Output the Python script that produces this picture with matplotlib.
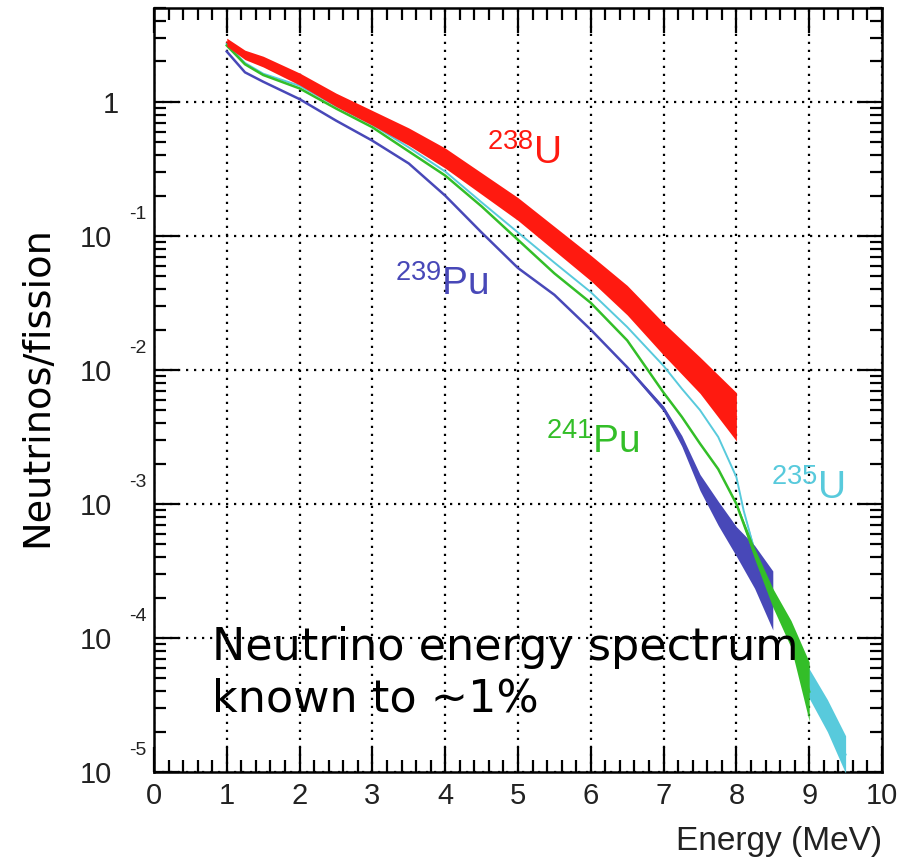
import numpy as np
import matplotlib
matplotlib.use("Agg")
import matplotlib.pyplot as plt
from matplotlib.ticker import LogLocator, MultipleLocator, NullFormatter, FixedLocator, FixedFormatter
from matplotlib.transforms import blended_transform_factory, ScaledTranslation

plt.rcParams['font.family'] = ['Liberation Sans', 'DejaVu Sans']
plt.rcParams['mathtext.fontset'] = 'custom'
plt.rcParams['mathtext.rm'] = 'Liberation Sans'
plt.rcParams['mathtext.it'] = 'Liberation Sans:italic'
plt.rcParams['mathtext.bf'] = 'Liberation Sans:bold'

# ---- data (log10 of neutrinos/fission) ----
x_u238 = [1, 1.25, 1.5, 2, 2.5, 3, 3.5, 4, 4.5, 5, 5.5, 6, 6.5, 7, 7.5, 8]
log_u238 = [0.445, 0.35, 0.30, 0.17, 0.015, -0.12, -0.26, -0.42, -0.61, -0.80,
            -1.02, -1.24, -1.48, -1.77, -2.04, -2.35]
err_u238 = [0.03, 0.035, 0.04, 0.045, 0.05, 0.055, 0.065, 0.075, 0.08, 0.085,
            0.09, 0.095, 0.11, 0.12, 0.135, 0.18]

x_pu239 = [1, 1.25, 1.5, 2, 2.5, 3, 3.5, 4, 4.5, 5, 5.5, 6, 6.5, 7, 7.25, 7.5,
           7.75, 8, 8.25, 8.5]
log_pu239 = [0.375, 0.22, 0.15, 0.02, -0.14, -0.29, -0.46, -0.70, -0.975, -1.24,
             -1.44, -1.70, -1.98, -2.29, -2.53, -2.84, -3.07, -3.28, -3.47, -3.72]
err_pu239 = [0, 0, 0, 0, 0, 0, 0, 0, 0, 0, 0, 0, 0.01, 0.02, 0.04, 0.06,
             0.09, 0.11, 0.16, 0.22]

x_pu241 = [1, 1.25, 1.5, 2, 2.5, 3, 3.5, 4, 4.5, 5, 5.5, 6, 6.5, 7, 7.25, 7.5,
           7.75, 8, 8.25, 8.5, 8.75, 9]
log_pu241 = [0.42, 0.28, 0.20, 0.10, -0.05, -0.19, -0.37, -0.55, -0.78, -1.03,
             -1.28, -1.50, -1.78, -2.17, -2.35, -2.55, -2.74, -3.00, -3.37, -3.70,
             -3.97, -4.40]
err_pu241 = [0, 0, 0, 0, 0, 0, 0, 0, 0, 0, 0, 0, 0, 0, 0, 0, 0, 0.01, 0.04, 0.07,
             0.10, 0.22]

x_u235 = [1, 1.25, 1.5, 2, 2.5, 3, 3.5, 4, 4.5, 5, 5.5, 6, 6.5, 7, 7.25, 7.5,
          7.75, 8, 8.1, 8.25, 8.5, 8.75, 9, 9.25, 9.5]
log_u235 = [0.43, 0.29, 0.21, 0.12, -0.03, -0.17, -0.34, -0.52, -0.75, -0.975,
            -1.20, -1.42, -1.68, -1.97, -2.14, -2.30, -2.50, -2.80, -3.05, -3.35,
            -3.68, -3.98, -4.34, -4.58, -4.87]
err_u235 = [0, 0, 0, 0, 0, 0, 0, 0, 0, 0, 0, 0, 0, 0, 0, 0, 0, 0, 0, 0.02, 0.04,
            0.07, 0.11, 0.12, 0.14]

x_ticks = [0, 1, 2, 3, 4, 5, 6, 7, 8, 9, 10]
y_ticks = [1e-5, 1e-4, 1e-3, 1e-2, 1e-1, 1]
y_ticklabels = ['10', '10', '10', '10', '10', '1']
y_exponents = ['-5', '-4', '-3', '-2', '-1', '']

C_RED = '#ff1a10'
C_BLUE = '#4848b8'
C_GREEN = '#33be28'
C_CYAN = '#58cadc'

fig = plt.figure(figsize=(9.05, 8.59), dpi=100)
ax = fig.add_axes([154 / 905, 1 - 772 / 859, (882 - 154) / 905, (772 - 8) / 859])


def draw(x, lg, err, color, lw, z):
    x = np.asarray(x, float)
    lg = np.asarray(lg, float)
    err = np.asarray(err, float)
    ax.fill_between(x, 10 ** (lg - err), 10 ** (lg + err), color=color, lw=0, zorder=z)
    ax.plot(x, 10 ** lg, color=color, lw=lw, zorder=z, solid_joinstyle='round')


draw(x_u235, log_u235, err_u235, C_CYAN, 1.4, 3)
draw(x_pu239, log_pu239, err_pu239, C_BLUE, 1.8, 4)
draw(x_pu241, log_pu241, err_pu241, C_GREEN, 1.8, 5)
draw(x_u238, log_u238, err_u238, C_RED, 1.0, 6)

ax.set_yscale('log')
ax.set_xlim(0, 10)
ax.set_ylim(1e-5, 10 ** 0.7)

ax.xaxis.set_major_locator(FixedLocator(x_ticks))
ax.xaxis.set_major_formatter(FixedFormatter([str(t) for t in x_ticks]))
ax.xaxis.set_minor_locator(MultipleLocator(0.2))
ax.yaxis.set_major_locator(FixedLocator(y_ticks))
ax.yaxis.set_major_formatter(FixedFormatter(y_ticklabels))
ax.yaxis.set_minor_locator(LogLocator(base=10, subs=np.arange(2, 10)))
ax.yaxis.set_minor_formatter(NullFormatter())

ax.tick_params(which='both', direction='in', top=True, right=True, width=1.6,
               colors='black', labelcolor='#222222', labelsize=21)
ax.tick_params(which='major', length=18)
ax.tick_params(which='minor', length=8.5)
ax.tick_params(axis='x', which='major', pad=7)
ax.tick_params(axis='y', which='major', pad=30)
for s in ax.spines.values():
    s.set_linewidth(1.8)

# the lone "1" label sits a little closer to the axis
try:
    ax.yaxis.get_major_ticks()[len(y_ticks) - 1].set_pad(25)
except Exception:
    pass

# exponents of the y tick labels, raised to the upper right of "10"
exp_trans = blended_transform_factory(ax.transAxes, ax.transData) + \
    ScaledTranslation(-7 / 100, 17 / 100, fig.dpi_scale_trans)
for t, e in zip(y_ticks, y_exponents):
    if e:
        ax.text(0, t, e, transform=exp_trans, ha='right', va='baseline',
                fontsize=14, color='#222222', clip_on=False)

ax.grid(True, which='major', color='black', linestyle=(0, (1, 2.6)), linewidth=1.6)
ax.set_axisbelow(True)

ax.set_xlabel('Energy (MeV)', loc='right', fontsize=24, color='#222222', labelpad=12)
ax.set_ylabel('Neutrinos/fission', fontsize=27.5, family='DejaVu Sans', color='black',
              va='center')
ax.yaxis.set_label_coords(-0.16, 0.505)

ax.text(4.57, 10 ** -0.465, r'$\mathregular{^{238}U}$', color=C_RED, fontsize=28,
        va='baseline', ha='left')
ax.text(3.31, 10 ** -1.44, r'$\mathregular{^{239}Pu}$', color=C_BLUE, fontsize=28,
        va='baseline', ha='left')
ax.text(5.39, 10 ** -2.62, r'$\mathregular{^{241}Pu}$', color=C_GREEN, fontsize=28,
        va='baseline', ha='left')
ax.text(8.47, 10 ** -2.96, r'$\mathregular{^{235}U}$', color=C_CYAN, fontsize=28,
        va='baseline', ha='left')

ax.text(0.0797, 0.1468, 'Neutrino energy spectrum', transform=ax.transAxes,
        fontsize=32, family='DejaVu Sans', va='baseline', ha='left', zorder=10)
ax.text(0.0797, 0.0786, 'known to ~1%', transform=ax.transAxes,
        fontsize=32, family='DejaVu Sans', va='baseline', ha='left', zorder=10)

fig.savefig('out.png', dpi=100)
